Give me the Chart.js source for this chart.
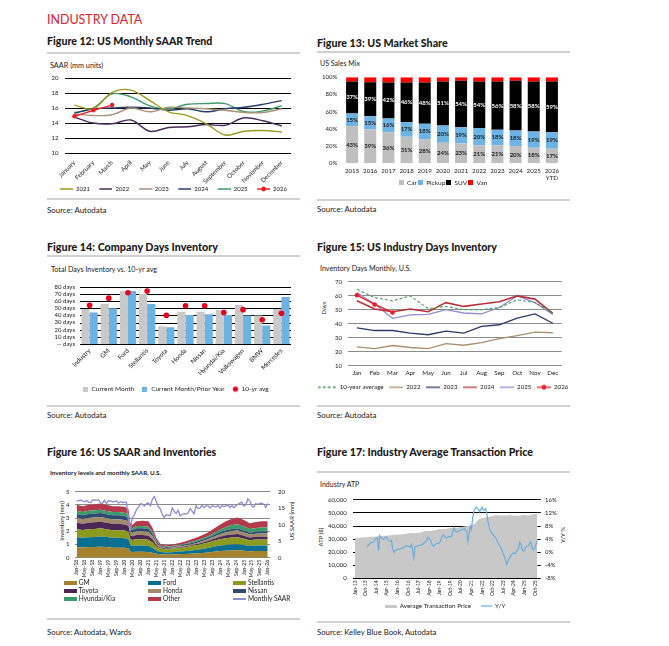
<!DOCTYPE html>
<html><head><meta charset="utf-8">
<script src="https://cdn.jsdelivr.net/npm/chart.js@4.4.1/dist/chart.umd.min.js"></script>
<style>
html,body{margin:0;padding:0;background:#fff;}
body{width:669px;height:646px;position:relative;overflow:hidden;font-family:Lato,'Open Sans',sans-serif;color:#1a1a1a;}
.t{position:absolute;white-space:nowrap;transform-origin:0 50%;}
.rule{position:absolute;height:2px;background:#d2d2d2;}
.rot{position:absolute;white-space:nowrap;transform:translate(-50%,-50%) rotate(-90deg);}
canvas{position:absolute;}
.sw{position:absolute;}
</style></head><body>
<script>
// ---------- Figure 12 data ----------
const months12 = ['January','February','March','April','May','June','July','August','September','October','November','December'];
const saar2021 = [16.4,15.9,18.1,18.4,17.0,15.5,15.0,13.9,12.4,12.9,13.0,12.8];
const saar2022 = [14.8,14.0,13.9,14.4,12.9,13.4,13.5,13.8,13.7,14.7,14.3,13.6];
const saar2023 = [15.2,15.0,15.1,16.0,15.5,16.1,16.0,15.9,15.7,15.4,15.4,15.9];
const saar2024 = [15.3,15.9,16.0,16.1,16.0,15.7,15.9,15.5,15.9,16.1,16.5,17.0];
const saar2025 = [15.4,16.0,17.9,17.5,16.3,15.9,16.5,16.6,16.6,15.5,15.6,16.3];
const saar2026 = [14.9,15.7,16.4];

// ---------- Figure 13 data ----------
const years13 = ['2015','2016','2017','2018','2019','2020','2021','2022','2023','2024','2025',['2026','YTD']];
const car13 = [43,39.4,36,31,28,24,23,21,21,20,18,17];
const pickup13 = [15,15.4,16,17,18,20,19,20,18,18,19,19];
const suv13 = [37,39.4,42,46,48,51,54,54,56,58,58,59];
const van13 = [5,5.8,6,6,6,5,4,5,5,4,5,5];

// ---------- Figure 14 data ----------
const companies14 = ['Industry','GM','Ford','Stellantis','Toyota','Honda','Nissan','Hyundai/Kia','Volkswagen','BMW','Mercedes'];
const current14 = [49,56,74,70,25,45,45,47.5,54.5,40,49];
const prior14 = [44,50,74,56,23.3,40.5,41.5,40.5,40,26,65.5];
const avg14 = [54,64,71.5,74,40,53.5,53.5,44,48,34,43];
const days14 = ['-- days','10 days','20 days','30 days','40 days','50 days','60 days','70 days','80 days'];

// ---------- Figure 15 data ----------
const months15 = ['Jan','Feb','Mar','Apr','May','Jun','Jul','Aug','Sep','Oct','Nov','Dec'];
const avg10y15 = [64.5,58.6,56.3,59.8,50.8,52.3,50,50,51.5,57,55,47.6];
const inv2022 = [23.4,22.2,24.4,23,22.2,25.8,24.6,26.5,29.3,31.4,34,33.5];
const inv2023 = [37,35.1,35.1,33.2,32.1,34.7,33.2,38,39.2,44,46.9,40.3];
const inv2024 = [56.3,50.4,48.5,50.4,48.5,55,52.3,54,55.6,59.8,57.5,47.3];
const inv2025 = [62,54,43.8,46.2,46.6,50,47.6,47,51.5,59.8,55,46.6];
const inv2026 = [60.3,53.7,48];

// ---------- Figure 16 data ----------
const ticks16 = ['Jan-18','May-18','Sep-18','Jan-19','May-19','Sep-19','Jan-20','May-20','Sep-20','Jan-21','May-21','Sep-21','Jan-22','May-22','Sep-22','Jan-23','May-23','Sep-23','Jan-24','May-24','Sep-24','Jan-25','May-25','Sep-25','Jan-26'];
const saar16 = [
 17.1,17.3,17.4,17.1,16.9,17.3,16.8,16.6,17.4,17.5,17.4,17.5,
 16.6,16.5,17.4,16.4,17.3,17.2,16.9,17.0,17.2,16.5,17.0,16.7,
 16.8,16.8,11.3,8.7,12.1,13.0,14.5,15.2,16.3,16.2,15.6,16.3,
 16.6,15.7,17.7,18.5,17.0,15.4,14.8,13.1,12.2,13.0,12.9,12.7,
 15.0,14.0,13.4,14.3,12.7,13.0,13.3,13.2,13.5,14.9,14.1,13.3,
 15.7,14.9,15.0,15.9,15.1,15.7,15.7,15.0,15.7,15.5,15.3,15.8,
 15.0,15.8,15.5,15.7,15.9,15.2,15.8,15.1,15.8,16.1,16.5,16.8,
 15.6,16.0,17.8,17.3,15.6,15.3,16.4,16.1,16.4,16.5,16.2,15.2,
 16.4];
const months16 = [0,3,6,9,12,15,18,21,24,26,27,28,30,33,36,38,40,42,45,48,51,54,57,60,63,66,69,72,75,78,81,84,87,90,93,96];
const gm16   = [.80,.78,.80,.80,.82,.80,.76,.76,.75,.72,.45,.43,.45,.45,.44,.38,.30,.26,.24,.25,.27,.28,.30,.32,.36,.40,.45,.50,.53,.55,.56,.53,.48,.50,.50,.50];
const ford16 = [.75,.73,.75,.76,.78,.76,.74,.74,.72,.70,.50,.48,.48,.47,.45,.38,.25,.18,.16,.17,.19,.21,.24,.27,.30,.34,.38,.42,.44,.45,.46,.43,.40,.42,.43,.43];
const stel16 = [.60,.58,.60,.62,.62,.60,.58,.58,.58,.55,.45,.43,.46,.47,.47,.40,.30,.26,.24,.25,.27,.29,.32,.35,.38,.41,.45,.48,.50,.52,.52,.48,.44,.45,.45,.45];
const toy16  = [.50,.48,.50,.50,.50,.48,.48,.48,.46,.45,.30,.28,.32,.32,.30,.24,.12,.06,.05,.05,.05,.06,.07,.08,.10,.12,.15,.18,.22,.24,.25,.22,.20,.21,.21,.21];
const hon16  = [.35,.35,.35,.36,.36,.35,.35,.35,.35,.33,.25,.25,.30,.30,.30,.24,.12,.06,.05,.05,.06,.06,.07,.08,.10,.12,.16,.20,.24,.26,.26,.25,.23,.24,.25,.25];
const nis16  = [.30,.30,.30,.30,.30,.30,.30,.30,.30,.28,.20,.20,.22,.22,.22,.20,.12,.06,.06,.06,.07,.08,.09,.10,.11,.12,.13,.14,.15,.16,.16,.15,.14,.14,.15,.15];
const hk16   = [.25,.24,.25,.25,.25,.25,.24,.24,.24,.23,.15,.15,.17,.17,.17,.14,.09,.05,.05,.05,.05,.06,.07,.08,.10,.12,.15,.20,.25,.30,.32,.30,.28,.29,.30,.30];
const oth16  = [.45,.44,.45,.46,.47,.46,.45,.45,.45,.44,.30,.28,.35,.40,.40,.32,.20,.12,.10,.12,.14,.16,.19,.22,.25,.27,.33,.38,.42,.47,.52,.49,.43,.45,.46,.46];
const names16 = ['GM','Ford','Stellantis','Toyota','Honda','Nissan','Hyundai/Kia','Other','Monthly SAAR'];

// ---------- Figure 17 data ----------
const ticks17 = ['Jan-13','Oct-13','Jul-14','Apr-15','Jan-16','Oct-16','Jul-17','Apr-18','Jan-19','Oct-19','Jul-20','Apr-21','Jan-22','Oct-22','Jul-23','Apr-24','Jan-25','Oct-25'];
const atpMonths = [0,3,6,9,12,15,18,21,24,27,30,33,36,39,42,45,48,51,54,57,60,63,66,69,72,75,78,81,84,87,90,93,96,99,102,105,108,111,114,117,120,123,126,129,132,135,138,141,144,147,150,153,155];
const atp17 = [30800,31000,31200,31500,31600,31800,32000,32300,32500,32600,32900,33300,33600,33600,33900,34300,34800,34500,34800,35400,36300,36200,36500,37000,37800,37600,37900,38500,38700,38600,39200,39600,40300,40500,42000,45000,46200,46600,47200,47600,48400,48000,48200,48000,48600,47900,47900,48100,48600,48100,48700,49200,49500];
const yoyStart = 10;
const yoy17 = [
 1.7,2.0,2.4,2.8,3.1,3.0,3.3,3.9,4.3,4.5,0.4,5.1,4.6,4.0,3.9,4.3,4.7,4.5,3.8,3.4,3.3,3.6,1.0,0.0,
 0.5,0.7,0.8,0.9,1.0,1.1,1.3,1.3,1.5,1.9,1.9,1.8,1.7,1.7,2.3,0.5,-1.7,1.7,1.8,1.9,2.0,2.1,2.2,2.2,
 2.6,2.9,3.2,3.6,4.6,4.2,3.7,2.8,2.0,1.9,2.3,2.6,2.7,2.7,2.9,3.8,4.8,5.3,4.9,4.5,4.3,4.6,4.8,4.7,
 4.8,6.0,7.5,6.8,6.2,6.3,6.5,6.6,6.8,6.9,7.1,7.2,6.6,6.4,3.3,5.8,8.0,7.0,10.5,12.5,13.3,13.8,13.5,13.0,
 12.4,13.2,13.8,12.8,13.0,13.3,11.9,9.5,7.5,6.5,6.0,5.5,5.0,4.7,4.1,3.4,2.6,1.9,1.4,0.7,-0.7,-1.3,
 -2.5,-3.7,-2.7,-2.0,-1.4,-0.8,-0.4,-0.3,-0.5,0.0,0.6,1.2,3.0,2.4,1.0,0.4,0.6,1.5,1.8,1.9,2.2,3.2,
 2.4,1.0,0.7,1.5,2.4,3.6];

// ---------- helpers ----------
Chart.defaults.font.family = "Lato, 'Open Sans', sans-serif";
Chart.defaults.color = '#1a1a1a';
const B = document.body;
function T(s,x,cy,size,o){o=o||{};const d=document.createElement('div');d.className='t';d.textContent=s;
  d.style.left=x+'px';d.style.top=(cy-size*0.6)+'px';d.style.fontSize=size+'px';d.style.lineHeight=(size*1.2)+'px';
  if(o.weight)d.style.fontWeight=o.weight;if(o.color)d.style.color=o.color;if(o.family)d.style.fontFamily=o.family;
  B.appendChild(d);if(o.w){const w=d.getBoundingClientRect().width;d.style.transform='scaleX('+(o.w/w)+')';}return d;}
function Rot(s,cx,cy,size){const d=document.createElement('div');d.className='rot';d.textContent=s;d.style.left=cx+'px';d.style.top=cy+'px';d.style.fontSize=size+'px';B.appendChild(d);}
function rule(x,y,w){const d=document.createElement('div');d.className='rule';d.style.left=x+'px';d.style.top=(y-1)+'px';d.style.width=w+'px';B.appendChild(d);}
function cv(x,y,w,h){const c=document.createElement('canvas');c.width=w;c.height=h;c.style.left=x+'px';c.style.top=y+'px';c.style.width=w+'px';c.style.height=h+'px';B.appendChild(c);return c;}
// legend swatches drawn at the right end of a transparent image of width w
function lineImg(color,w,len,lw,dash,dot){const c=document.createElement('canvas');c.width=w;c.height=8;const g=c.getContext('2d');
  g.strokeStyle=color;g.lineWidth=lw;if(dash)g.setLineDash(dash);g.beginPath();g.moveTo(w-len,4);g.lineTo(w,4);g.stroke();
  if(dot){g.setLineDash([]);g.fillStyle=color;g.beginPath();g.arc(w-len/2,4,2.4,0,Math.PI*2);g.fill();}return c;}
function boxImg(color,w,h,bw){bw=bw||w;const c=document.createElement('canvas');c.width=w;c.height=h;const g=c.getContext('2d');g.fillStyle=color;g.fillRect(w-bw,0,bw,h);return c;}
function dotImg(color,r){const c=document.createElement('canvas');c.width=2*r+2;c.height=2*r+2;const g=c.getContext('2d');g.fillStyle=color;g.beginPath();g.arc(r+1,r+1,r,0,Math.PI*2);g.fill();return c;}
function legendOpts(imgs,size,pad,psw){return {position:'bottom',labels:{usePointStyle:true,pointStyleWidth:psw,font:{size:size},color:'#1a1a1a',padding:pad,
  generateLabels(chart){const it=Chart.defaults.plugins.legend.labels.generateLabels(chart);it.forEach(i=>{i.pointStyle=imgs[i.datasetIndex];});return it;},
  sort:(a,b)=>a.datasetIndex-b.datasetIndex}};}
const base = {animation:false,responsive:false,events:[]};
const noTip = {tooltip:{enabled:false}};
function lay(l,r,t,b){return {autoPadding:false,padding:{left:l,right:r,top:t,bottom:b}};}
// fixed axis size; tick labels may overflow the axis box instead of being clipped
function fixH(h){return function(s){s.height=h;s._computeLabelArea=()=>null;};}
// empty right-hand spacer axis (keeps legend centred where the reference has it)
function spacer(w){return {position:'right',display:true,ticks:{display:false},grid:{display:false,drawTicks:false},border:{display:false},afterFit(s){s.width=w;}};}
// horizontal grid lines drawn from the y scale's own ticks
const yGrid = {id:'yGrid',beforeDatasetsDraw(chart,args,opts){const y=chart.scales.y,a=chart.chartArea,g=chart.ctx;g.save();g.strokeStyle=opts.color||'#000';g.lineWidth=1;
  y.ticks.forEach(t=>{const py=Math.round(y.getPixelForValue(t.value))+0.5;g.beginPath();g.moveTo(a.left,py);g.lineTo(a.right,py);g.stroke();});g.restore();}};

// ---------- page texts ----------
T('INDUSTRY DATA',46.7,19.3,12.5,{w:95.3,color:'#e3202d'});
T('Figure 12: US Monthly SAAR Trend',47.3,41.5,10.5,{w:165.4,weight:900});
T('Figure 13: US Market Share',316.7,42.8,10.5,{w:130.7,weight:900});
T('Figure 14: Company Days Inventory',47.3,247,10.5,{w:171,weight:900});
T('Figure 15: US Industry Days Inventory',316.7,247,10.5,{w:180,weight:900});
T('Figure 16: US SAAR and Inventories',47.3,452.5,10.5,{w:169.3,weight:900});
T('Figure 17: Industry Average Transaction Price',316.7,452.5,10.5,{w:216,weight:900});
rule(46.7,52.7,253.3);rule(316.7,52.3,253.3);rule(46.7,255.7,253.3);rule(316.7,471.7,253.3);
rule(46.7,199.3,253.3);rule(316.7,200,253.3);rule(46.7,405.7,253.3);rule(316.7,406,253.3);rule(46.7,619.3,253.3);rule(316.7,621.7,253.3);
T('SAAR (mm units)',50,65,6.8,{w:53.3});
T('US Sales Mix',320,63.3,6.8,{w:40});
T('Total Days Inventory vs. 10-yr avg',50.7,269.3,6.8,{w:106});
T('Inventory Days Monthly, U.S.',320,268.3,6.8,{w:91});
T('Inventory levels and monthly SAAR, U.S.',50,472.3,6.3,{w:111,weight:700});
T('Industry ATP',320,484.3,6.8,{w:39.3});
T('Source: Autodata',47.3,210.3,7.8,{w:59.4});
T('Source: Autodata',316.7,209.3,7.8,{w:59.4});
T('Source: Autodata',47.3,416,7.8,{w:59.4});
T('Source: Autodata',316.7,415.3,7.8,{w:59.4});
T('Source: Autodata, Wards',47.3,632.7,7.8,{w:84.3});
T('Source: Kelley Blue Book, Autodata',316.7,632.7,7.8,{w:119.3});
Rot('Days',323.3,308,6);
Rot('Inventory (mm)',60.8,521,6);
Rot('US SAAR (mm)',290.5,521,6);
Rot('ATP ($)',320,537,6);
Rot('Y/Y %',562,535,6);

// ---------- Figure 12 ----------
const c12col = ['#9c9b1f','#4a2c5a','#a99278','#2c3c6c','#3f9b6c','#ee1c25'];
new Chart(cv(46,68,247,134),{type:'line',
 data:{labels:months12,datasets:[
  {label:'2021',data:saar2021,borderColor:c12col[0]},
  {label:'2022',data:saar2022,borderColor:c12col[1]},
  {label:'2023',data:saar2023,borderColor:c12col[2]},
  {label:'2024',data:saar2024,borderColor:c12col[3]},
  {label:'2025',data:saar2025,borderColor:c12col[4]},
  {label:'2026',data:saar2026,borderColor:c12col[5],pointRadius:2.2,pointBackgroundColor:c12col[5],pointBorderWidth:0,tension:0,order:-1}]},
 options:{...base,layout:lay(0,0,9,0),
  elements:{line:{tension:0.35,borderWidth:1.4,fill:false},point:{radius:0}},
  scales:{
   x:{offset:true,grid:{display:false,drawTicks:false},border:{display:false},ticks:{autoSkip:false,minRotation:45,maxRotation:45,padding:6,font:{size:6.2}},afterFit:fixH(31.5)},
   y:{min:10,max:20,ticks:{autoSkip:false,stepSize:2,padding:6.5,font:{size:6}},grid:{color:'#000',lineWidth:1,drawTicks:false},border:{display:false},afterFit(s){s.width=19;}}},
  plugins:{...noTip,legend:legendOpts(c12col.map((c,i)=>lineImg(c,21,13,1.5,null,i===5)),6,1.5,21)}}});

// ---------- Figure 13 ----------
const c13col = ['#bfbfbf','#6db3e3','#000000','#ff0000'];
const barLabels = {id:'barLabels',afterDatasetsDraw(chart){const g=chart.ctx;g.save();g.font="bold 6px Lato, 'Open Sans', sans-serif";g.textAlign='center';g.textBaseline='middle';
  chart.data.datasets.forEach((ds,di)=>{if(!ds.showLabels)return;const meta=chart.getDatasetMeta(di);
   meta.data.forEach((el,i)=>{const p=el.getProps(['x','y','base'],true);g.fillStyle=ds.labelColor;g.fillText(Math.round(ds.data[i])+'%',p.x,(p.y+p.base)/2);});});g.restore();}};
new Chart(cv(316,68,254,128),{type:'bar',
 data:{labels:years13,datasets:[
  {label:'Car',data:car13,backgroundColor:c13col[0],showLabels:true,labelColor:'#1a1a1a'},
  {label:'Pickup',data:pickup13,backgroundColor:c13col[1],showLabels:true,labelColor:'#1a1a1a'},
  {label:'SUV',data:suv13,backgroundColor:c13col[2],showLabels:true,labelColor:'#ffffff'},
  {label:'Van',data:van13,backgroundColor:c13col[3]}]},
 options:{...base,layout:lay(0,0,8.7,0),
  datasets:{bar:{categoryPercentage:1,barPercentage:0.66}},
  scales:{
   x:{stacked:true,grid:{display:false,drawTicks:false},border:{display:false},ticks:{autoSkip:false,maxRotation:0,minRotation:0,padding:4.5,font:{size:6.2,lineHeight:1.15}},afterFit:fixH(15.2)},
   y:{stacked:true,min:0,max:100,ticks:{autoSkip:false,stepSize:20,padding:5.7,font:{size:6},callback:v=>v+'%'},grid:{display:false,drawTicks:false},border:{display:false},afterFit(s){s.width=27;}},
   yR:spacer(9)},
  plugins:{...noTip,legend:legendOpts(c13col.map(c=>boxImg(c,5,5)),6.5,1,5)}},
 plugins:[barLabels]});

// ---------- Figure 14 ----------
const c14col = ['#c9c9c9','#6cb2e2','#e8001c'];
new Chart(cv(46,274,259,129),{type:'bar',
 data:{labels:companies14,datasets:[
  {label:'Current Month',data:current14,backgroundColor:c14col[0]},
  {label:'Current Month/Prior Year',data:prior14,backgroundColor:c14col[1]},
  {type:'line',label:'10-yr avg',data:avg14,showLine:false,pointRadius:2.8,pointBackgroundColor:c14col[2],pointBorderWidth:0,order:-1}]},
 options:{...base,layout:lay(0,0,12.7,0.75),
  datasets:{bar:{categoryPercentage:0.85,barPercentage:1}},
  scales:{
   x:{grid:{display:false,drawTicks:false},border:{display:false},ticks:{autoSkip:false,minRotation:45,maxRotation:45,padding:3,font:{size:6.3}},afterFit:fixH(34)},
   y:{min:0,max:80,ticks:{autoSkip:false,stepSize:10,padding:5,font:{size:6},callback:(v,i)=>days14[i]},grid:{display:false,drawTicks:false},border:{display:false},afterFit(s){s.width=34;}},
   yR:spacer(14)},
  plugins:{...noTip,yGrid:{color:'#000'},legend:legendOpts([boxImg(c14col[0],5,5),boxImg(c14col[1],5,5),dotImg(c14col[2],2.6)],6.5,7.7,6)}},
 plugins:[yGrid]});

// ---------- Figure 15 ----------
const c15col = ['#4f9a60','#a89070','#2b3a67','#b8323c','#8e8ed0','#ee1c25'];
new Chart(cv(316,272,254,129),{type:'line',
 data:{labels:months15,datasets:[
  {label:'10-year average',data:avg10y15,borderColor:c15col[0],borderDash:[3,2],borderWidth:1.1},
  {label:'2022',data:inv2022,borderColor:c15col[1]},
  {label:'2023',data:inv2023,borderColor:c15col[2]},
  {label:'2024',data:inv2024,borderColor:c15col[3],borderWidth:1.6},
  {label:'2025',data:inv2025,borderColor:c15col[4]},
  {label:'2026',data:inv2026,borderColor:c15col[5],pointRadius:2.3,pointBackgroundColor:c15col[5],pointBorderWidth:0,order:-1}]},
 options:{...base,layout:lay(0,0,8,0.6),
  elements:{line:{tension:0,borderWidth:1.3,fill:false},point:{radius:0}},
  scales:{
   x:{offset:true,grid:{display:false,drawTicks:false},border:{display:false},ticks:{autoSkip:false,maxRotation:0,padding:3.9,font:{size:6.2}},afterFit:fixH(18)},
   y:{min:10,max:70,ticks:{autoSkip:false,stepSize:10,padding:6,font:{size:6}},grid:{color:'#8c8c8c',lineWidth:1,drawTicks:false},border:{display:false},afterFit(s){s.width=32;}},
   yR:spacer(8.3)},
  plugins:{...noTip,legend:legendOpts(c15col.map((c,i)=>lineImg(c,19,i===0?19:14,1.3,i===0?[3,2]:null,i===5)),6.2,0.5,19)}}});

// ---------- Figure 16 ----------
const c16col = ['#a7822e','#0b6f8f','#8c9a1f','#4b2755','#a08a6c','#2f4a70','#3d9a6b','#b23b4b','#8c8cd0'];
const layers16 = [gm16,ford16,stel16,toy16,hon16,nis16,hk16,oth16];
const ds16 = [{label:names16[8],data:saar16.map((v,i)=>({x:i,y:v})),yAxisID:'y2',borderColor:c16col[8],borderWidth:1.3,pointRadius:0,fill:false,tension:0}];
layers16.forEach((arr,k)=>ds16.push({label:names16[k],data:arr.map((v,i)=>({x:months16[i],y:v})),yAxisID:'y',backgroundColor:c16col[k],borderWidth:0,pointRadius:0,fill:k===0?'origin':'-1',tension:0}));
new Chart(cv(46,480,254,100),{type:'line',data:{datasets:ds16},
 options:{...base,layout:lay(0,0,5.7,0),
  scales:{
   x:{type:'linear',min:-0.85,max:97.15,grid:{display:false,drawTicks:false},border:{display:false},
      afterBuildTicks(s){s.ticks=ticks16.map((_,i)=>({value:i*4}));},
      ticks:{autoSkip:false,minRotation:90,maxRotation:90,padding:2,font:{size:5.2},callback:(v,i)=>ticks16[i]},afterFit:fixH(22.3)},
   y:{stacked:true,min:0,max:5,ticks:{autoSkip:false,stepSize:1,padding:5.5,font:{size:6}},grid:{color:'#8a8a8a',lineWidth:1,drawTicks:false},border:{display:false},afterFit(s){s.width=29;}},
   y2:{position:'right',min:0,max:20,ticks:{autoSkip:false,stepSize:5,padding:8,font:{size:6}},grid:{display:false,drawTicks:false},border:{display:false},afterFit(s){s.width=30;}}},
  plugins:{...noTip,legend:{display:false}}}});
// HTML legend for figure 16 (3 x 3 grid)
const lgCols16=[64,148.3,233.3], lgRows16=[582.7,590.7,599];
names16.forEach((n,i)=>{const x=lgCols16[i%3],y=lgRows16[Math.floor(i/3)];const s=document.createElement('div');s.className='sw';
  const isLine=i===8;s.style.left=x+'px';s.style.width='13px';s.style.height=(isLine?1.3:4)+'px';s.style.top=(y-(isLine?0.65:2))+'px';s.style.background=c16col[i];B.appendChild(s);
  T(n,x+14.7,y,6.6);});

// ---------- Figure 17 ----------
new Chart(cv(318,490,254,130),{type:'line',
 data:{datasets:[
  {label:'Average Transaction Price',data:atp17.map((v,i)=>({x:atpMonths[i],y:v})),yAxisID:'y',fill:'origin',backgroundColor:'#c8c8c8',borderWidth:0,pointRadius:0,tension:0,order:1},
  {label:'Y/Y',data:yoy17.map((v,i)=>({x:yoyStart+i,y:v})),yAxisID:'y2',borderColor:'#6aaedc',borderWidth:1.2,pointRadius:0,fill:false,tension:0,order:0}]},
 options:{...base,layout:lay(0,0,6,0.85),
  scales:{
   x:{type:'linear',min:-1.7,max:155.3,grid:{display:false,drawTicks:false},border:{display:false},
      afterBuildTicks(s){s.ticks=ticks17.map((_,i)=>({value:i*9}));},
      ticks:{autoSkip:false,minRotation:90,maxRotation:90,padding:2,font:{size:5},callback:(v,i)=>ticks17[i]},afterFit:fixH(15.55)},
   y:{min:0,max:60000,ticks:{autoSkip:false,stepSize:10000,padding:6.3,font:{size:6},callback:v=>v.toLocaleString('en-US')},grid:{color:'#000',lineWidth:1,drawTicks:false},border:{display:false},afterFit(s){s.width=35;}},
   y2:{position:'right',min:-8,max:16,ticks:{autoSkip:false,stepSize:4,padding:4.3,font:{size:6},callback:v=>v+'%'},grid:{display:true,drawOnChartArea:false,drawTicks:true,tickLength:3,color:'#000'},border:{display:false},afterFit(s){s.width=34.3;}}},
  plugins:{...noTip,legend:legendOpts([boxImg('#c8c8c8',12,3),lineImg('#6aaedc',12,11,1.2)],6.3,9,12)}}});
</script>
</body></html>
